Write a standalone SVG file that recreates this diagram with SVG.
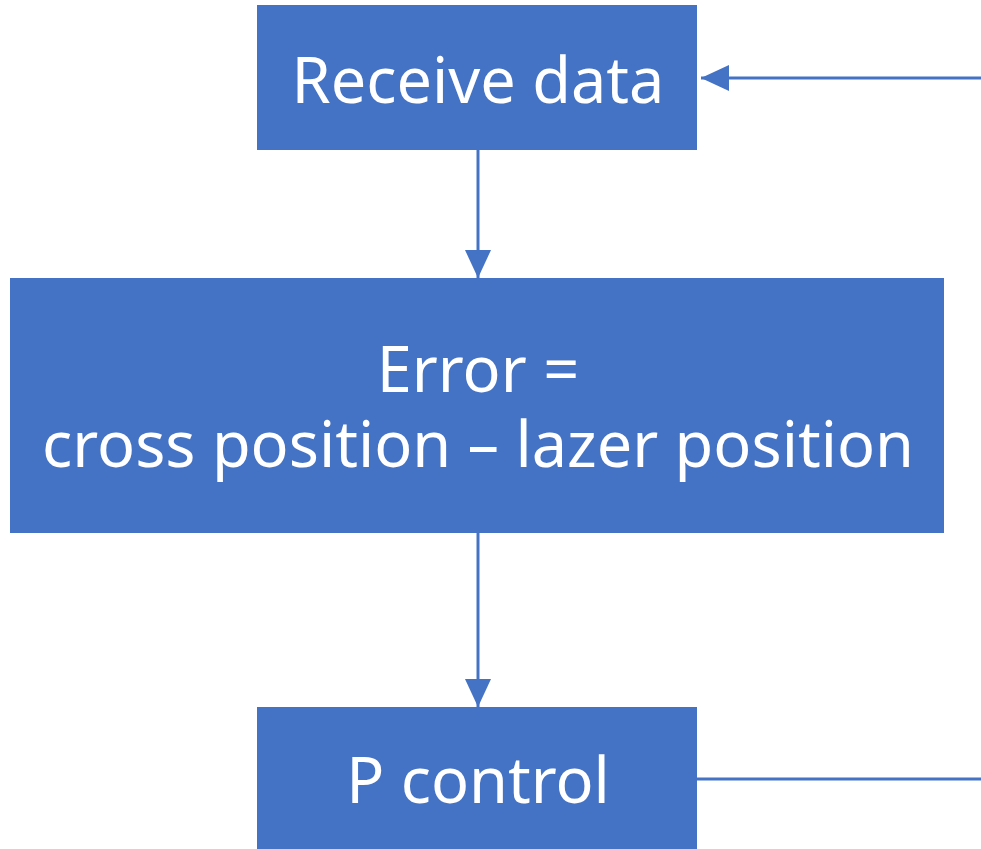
<svg xmlns="http://www.w3.org/2000/svg" width="981" height="849" viewBox="0 0 981 849">
<defs>
<style>
.box{fill:#4472C4;}
.lbl{fill:#ffffff;font-family:"Noto Sans","Open Sans","DejaVu Sans",sans-serif;font-size:63px;text-anchor:middle;}
.conn{stroke:#4472C4;stroke-width:3;fill:none;}
</style>
<marker id="ah" markerUnits="userSpaceOnUse" markerWidth="28" markerHeight="28" viewBox="0 0 28 28" refX="28" refY="14" orient="auto">
<path d="M0,1 L28,14 L0,27 Z" fill="#4472C4"/>
</marker>
</defs>
<rect width="981" height="849" fill="#ffffff"/>
<g id="connectors">
<line class="conn" x1="981" y1="78" x2="701" y2="78" marker-end="url(#ah)"/>
<line class="conn" x1="478" y1="150" x2="478" y2="278" marker-end="url(#ah)"/>
<line class="conn" x1="478" y1="533" x2="478" y2="707" marker-end="url(#ah)"/>
<line class="conn" x1="697" y1="779" x2="981" y2="779"/>
</g>
<g id="receive">
<rect class="box" x="257" y="5" width="440" height="145"/>
<text class="lbl" x="478" y="103">Receive data</text>
</g>
<g id="error">
<rect class="box" x="10" y="278" width="934" height="255"/>
<text class="lbl"><tspan x="478" y="392">Error =</tspan><tspan x="478" y="467">cross position – lazer position</tspan></text>
</g>
<g id="pcontrol">
<rect class="box" x="257" y="707" width="440" height="142"/>
<text class="lbl" x="478" y="803">P control</text>
</g>
</svg>
